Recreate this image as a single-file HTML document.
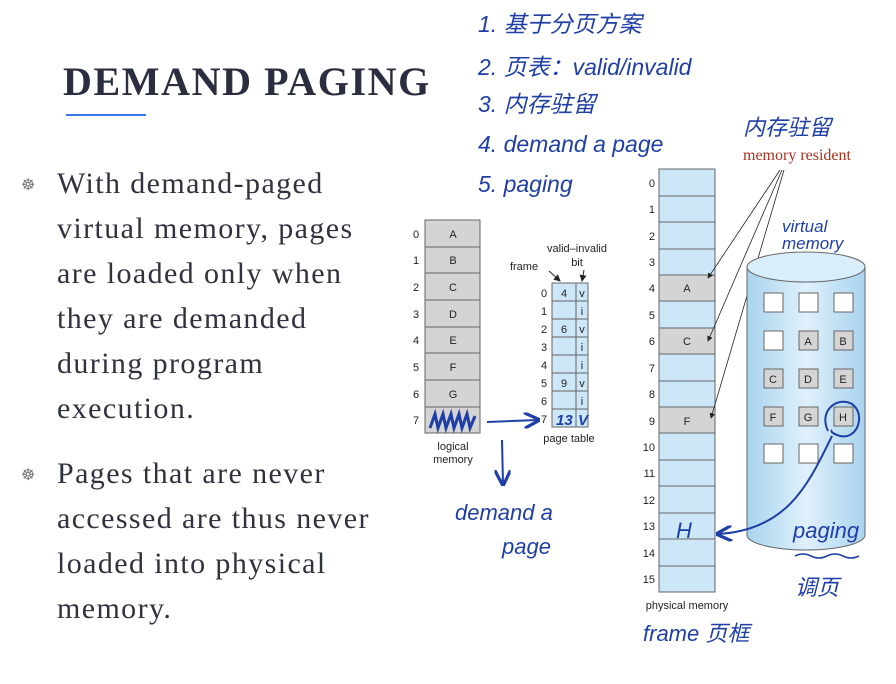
<!DOCTYPE html>
<html><head><meta charset="utf-8"><style>
html,body{margin:0;padding:0;background:#fff;width:896px;height:684px;overflow:hidden}
svg{display:block}
.hw{font-family:"Liberation Sans","Noto Sans CJK SC",cursive,sans-serif;fill:#1f3fa6;font-style:italic}
.s{font-family:"Liberation Sans",sans-serif;font-size:11px;fill:#222}
.b{font-family:"Liberation Serif",serif;font-size:30px;fill:#30323f;letter-spacing:1.4px}
</style></head><body>
<svg width="896" height="684" viewBox="0 0 896 684" xmlns="http://www.w3.org/2000/svg">
<defs>
<marker id="ab" markerWidth="8" markerHeight="8" refX="7" refY="4" orient="auto"><path d="M0,0 L8,4 L0,8" fill="none" stroke="#1f3fa6" stroke-width="1.6"/></marker>
<marker id="ak" markerWidth="7" markerHeight="7" refX="6" refY="3.5" orient="auto"><path d="M0,0 L7,3.5 L0,7 z" fill="#222"/></marker>
<linearGradient id="cy" x1="0" x2="1"><stop offset="0" stop-color="#a9d4ee"/><stop offset="0.5" stop-color="#dff0fb"/><stop offset="1" stop-color="#a9d4ee"/></linearGradient>
</defs>
<!-- title -->
<text x="63" y="95" font-family="Liberation Serif,serif" font-weight="bold" font-size="40" fill="#2b2e40" letter-spacing="1.6">DEMAND PAGING</text>
<rect x="66" y="114" width="80" height="2" fill="#3b78e7"/>
<!-- bullets -->
<g font-family="Liberation Sans,sans-serif" font-size="16" fill="#777"><text x="21" y="190">☸</text><text x="21" y="480">☸</text></g>
<g class="b">
<text x="57" y="193">With demand-paged</text>
<text x="57" y="238">virtual memory, pages</text>
<text x="57" y="283">are loaded only when</text>
<text x="57" y="328">they are demanded</text>
<text x="57" y="373">during program</text>
<text x="57" y="418">execution.</text>
<text x="57" y="483">Pages that are never</text>
<text x="57" y="528">accessed are thus never</text>
<text x="57" y="573">loaded into physical</text>
<text x="57" y="618">memory.</text>
</g>
<text x="743" y="160" font-family="Liberation Serif,serif" font-size="16" fill="#a8321e">memory resident</text>
<path d="M795,556 q8,-4 16,0 t16,0 t16,0 t16,0" stroke="#1f3fa6" stroke-width="1.6" fill="none"/>
<!-- logical memory -->
<g stroke="#666" stroke-width="1" fill="#d4d4d4">
<rect x="425" y="220" width="55" height="213"/>
<line x1="425" y1="247" x2="480" y2="247"/><line x1="425" y1="273" x2="480" y2="273"/><line x1="425" y1="300" x2="480" y2="300"/><line x1="425" y1="327" x2="480" y2="327"/><line x1="425" y1="353" x2="480" y2="353"/><line x1="425" y1="380" x2="480" y2="380"/><line x1="425" y1="407" x2="480" y2="407"/>
</g>
<g class="s" text-anchor="middle">
<text x="453" y="238">A</text><text x="453" y="264">B</text><text x="453" y="291">C</text><text x="453" y="318">D</text><text x="453" y="344">E</text><text x="453" y="371">F</text><text x="453" y="398">G</text>
<text x="416" y="238">0</text><text x="416" y="264">1</text><text x="416" y="291">2</text><text x="416" y="318">3</text><text x="416" y="344">4</text><text x="416" y="371">5</text><text x="416" y="398">6</text><text x="416" y="424">7</text>
<text x="453" y="450">logical</text><text x="453" y="463">memory</text>
</g>
<path d="M430,428 l5,-14 l3,14 l5,-14 l3,14 l5,-14 l3,14 l5,-14 l3,14 l5,-14 l3,14 l5,-12" stroke="#1f3fa6" stroke-width="3" fill="none"/>
<path d="M487,422 L538,420" stroke="#1f3fa6" stroke-width="2" fill="none" marker-end="url(#ab)"/>
<path d="M502,440 L503,484" stroke="#1f3fa6" stroke-width="2" fill="none" marker-end="url(#ab)"/>
<!-- page table -->
<g stroke="#666" stroke-width="1" fill="#cce7f7">
<rect x="552" y="283" width="36" height="144"/><line x1="576" y1="283" x2="576" y2="427"/>
<line x1="552" y1="301" x2="588" y2="301"/><line x1="552" y1="319" x2="588" y2="319"/><line x1="552" y1="337" x2="588" y2="337"/><line x1="552" y1="355" x2="588" y2="355"/><line x1="552" y1="373" x2="588" y2="373"/><line x1="552" y1="391" x2="588" y2="391"/><line x1="552" y1="409" x2="588" y2="409"/>
</g>
<g class="s" text-anchor="middle">
<text x="544" y="297">0</text><text x="544" y="315">1</text><text x="544" y="333">2</text><text x="544" y="351">3</text><text x="544" y="369">4</text><text x="544" y="387">5</text><text x="544" y="405">6</text><text x="544" y="423">7</text>
<text x="564" y="297">4</text><text x="564" y="333">6</text><text x="564" y="387">9</text>
<text x="582" y="297">v</text><text x="582" y="315">i</text><text x="582" y="333">v</text><text x="582" y="351">i</text><text x="582" y="369">i</text><text x="582" y="387">v</text><text x="582" y="405">i</text>
<text x="577" y="252">valid–invalid</text><text x="577" y="266">bit</text><text x="524" y="270">frame</text>
<text x="569" y="442">page table</text>
</g>
<text x="556" y="425" class="hw" font-size="15" font-weight="bold">13</text><text x="578" y="425" class="hw" font-size="15" font-weight="bold">V</text>
<path d="M549,271 L560,281" stroke="#222" marker-end="url(#ak)"/><path d="M584,270 L582,281" stroke="#222" marker-end="url(#ak)"/>
<!-- physical memory -->
<rect x="659" y="169" width="56" height="423" fill="#cce7f7" stroke="#666"/>
<g fill="#d4d4d4" stroke="#666"><rect x="659" y="275" width="56" height="26"/><rect x="659" y="328" width="56" height="26"/><rect x="659" y="407" width="56" height="26"/></g>
<g stroke="#666">
<line x1="659" y1="196" x2="715" y2="196"/><line x1="659" y1="222" x2="715" y2="222"/><line x1="659" y1="249" x2="715" y2="249"/><line x1="659" y1="381" x2="715" y2="381"/><line x1="659" y1="460" x2="715" y2="460"/><line x1="659" y1="486" x2="715" y2="486"/><line x1="659" y1="513" x2="715" y2="513"/><line x1="659" y1="539" x2="715" y2="539"/><line x1="659" y1="566" x2="715" y2="566"/>
</g>
<g class="s" text-anchor="end">
<text x="655" y="187">0</text><text x="655" y="213">1</text><text x="655" y="240">2</text><text x="655" y="266">3</text><text x="655" y="292">4</text><text x="655" y="319">5</text><text x="655" y="345">6</text><text x="655" y="372">7</text><text x="655" y="398">8</text><text x="655" y="425">9</text><text x="655" y="451">10</text><text x="655" y="477">11</text><text x="655" y="504">12</text><text x="655" y="530">13</text><text x="655" y="557">14</text><text x="655" y="583">15</text>
</g>
<g class="s" text-anchor="middle"><text x="687" y="292">A</text><text x="687" y="345">C</text><text x="687" y="425">F</text><text x="687" y="609">physical memory</text></g>
<path d="M780,170 L708,278" stroke="#222" stroke-width="0.8" marker-end="url(#ak)"/>
<path d="M782,170 L708,341" stroke="#222" stroke-width="0.8" marker-end="url(#ak)"/>
<path d="M784,170 L711,418" stroke="#222" stroke-width="0.8" marker-end="url(#ak)"/>
<!-- cylinder -->
<path d="M747,267 L747,535 A59,15 0 0 0 865,535 L865,267" fill="url(#cy)" stroke="#666"/>
<ellipse cx="806" cy="267" rx="59" ry="15" fill="#d8eefa" stroke="#666"/>
<g stroke="#666" fill="#fff">
<rect x="764" y="293" width="19" height="19"/><rect x="799" y="293" width="19" height="19"/><rect x="834" y="293" width="19" height="19"/>
<rect x="764" y="331" width="19" height="19"/><rect x="799" y="331" width="19" height="19" fill="#d4d4d4"/><rect x="834" y="331" width="19" height="19" fill="#d4d4d4"/>
<rect x="764" y="369" width="19" height="19" fill="#d4d4d4"/><rect x="799" y="369" width="19" height="19" fill="#d4d4d4"/><rect x="834" y="369" width="19" height="19" fill="#d4d4d4"/>
<rect x="764" y="407" width="19" height="19" fill="#d4d4d4"/><rect x="799" y="407" width="19" height="19" fill="#d4d4d4"/><rect x="834" y="407" width="19" height="19" fill="#d4d4d4"/>
<rect x="764" y="444" width="19" height="19"/><rect x="799" y="444" width="19" height="19"/><rect x="834" y="444" width="19" height="19"/>
</g>
<g class="s" text-anchor="middle">
<text x="808" y="345">A</text><text x="843" y="345">B</text><text x="773" y="383">C</text><text x="808" y="383">D</text><text x="843" y="383">E</text><text x="773" y="421">F</text><text x="808" y="421">G</text><text x="843" y="421">H</text>
</g>
<path d="M828,431 C818,410 838,396 852,404 C866,414 858,440 840,436 C834,434 830,432 832,430" stroke="#1f3fa6" stroke-width="2" fill="none"/>
<path d="M832,436 C810,480 790,530 718,534" stroke="#1f3fa6" stroke-width="2" fill="none" marker-end="url(#ab)"/>
<!-- handwritten (on top) -->
<g class="hw" font-size="23">
<text x="478" y="32">1. 基于分页方案</text>
<text x="478" y="75">2. 页表：valid/invalid</text>
<text x="478" y="112">3. 内存驻留</text>
<text x="478" y="152">4. demand a page</text>
<text x="478" y="192">5. paging</text>
<text x="743" y="135" font-size="22">内存驻留</text>
<text x="782" y="232" font-size="17">virtual</text>
<text x="782" y="249" font-size="17">memory</text>
<text x="455" y="520" font-size="22">demand a</text>
<text x="502" y="554" font-size="22">page</text>
<text x="793" y="538" font-size="22">paging</text>
<text x="795" y="595" font-size="22">调页</text>
<text x="643" y="641" font-size="22">frame 页框</text>
<text x="676" y="538" font-size="22">H</text>
</g>
</svg>
</body></html>
